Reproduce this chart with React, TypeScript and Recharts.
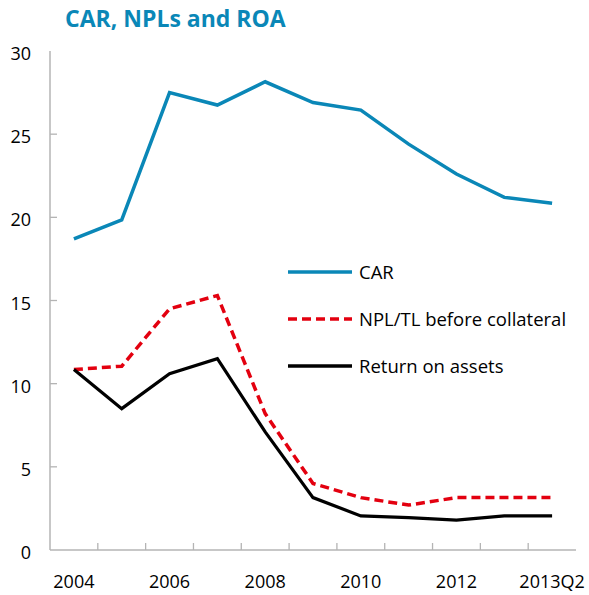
import React from "react";
import { LineChart, Line, XAxis, YAxis, Legend } from "recharts";

const categories = ["2004", "2005", "2006", "2007", "2008", "2009", "2010", "2011", "2012", "2013", "2013Q2"];
const carValues = [18.7, 19.85, 27.5, 26.75, 28.15, 26.9, 26.45, 24.4, 22.6, 21.2, 20.85];
const nplValues = [10.85, 11.05, 14.5, 15.3, 8.2, 4.0, 3.15, 2.7, 3.15, 3.15, 3.15];
const roaValues = [10.85, 8.5, 10.6, 11.5, 7.1, 3.15, 2.05, 1.95, 1.8, 2.05, 2.05];
const yTicks = [0, 5, 10, 15, 20, 25, 30];
const xLabelIndexes = [0, 2, 4, 6, 8, 10];
const seriesNames = ["CAR", "NPL/TL before collateral", "Return on assets"];

const BLUE = "#0a87b7";
const RED = "#e3000f";
const BLACK = "#000000";
const AXIS = "#b4b4b4";
const FRAME = "#d9d9d9";
const FONT = "'Open Sans', sans-serif";

const data = categories.map((c, i) => ({
  i,
  cat: c,
  car: carValues[i],
  npl: nplValues[i],
  roa: roaValues[i],
}));

// tick positions: integers are category centers (labels), halves are band boundaries (tick marks)
const xTickPositions: number[] = [];
for (let k = 0; k < categories.length; k++) {
  xTickPositions.push(k);
  if (k < categories.length - 1) xTickPositions.push(k + 0.5);
}

const XTick = (props: any) => {
  const { x, y, payload } = props;
  const v = payload.value as number;
  if (Math.abs(v - Math.round(v)) > 0.01) {
    return <line x1={x} x2={x} y1={y} y2={y - 7} stroke={AXIS} strokeWidth={1.3} />;
  }
  if (!xLabelIndexes.includes(v)) return <g />;
  return (
    <text x={x} y={y + 38} textAnchor="middle" fontFamily={FONT} fontSize={18} fill="#000">
      {categories[v]}
    </text>
  );
};

const YTick = (props: any) => {
  const { x, y, payload } = props;
  return (
    <g>
      {payload.value !== 0 && payload.value !== 30 ? (
        <line x1={x} x2={x + 7} y1={y} y2={y} stroke={AXIS} strokeWidth={1.3} />
      ) : null}
      <text x={x - 19} y={y + 9} textAnchor="end" fontFamily={FONT} fontSize={18} fill="#000">
        {payload.value}
      </text>
    </g>
  );
};

const LegendContent = (props: any) => {
  const { payload } = props;
  const rows = [22, 69, 116];
  return (
    <svg width={295} height={135} style={{ display: "block" }}>
      {(payload || []).map((p: any, idx: number) => (
        <g key={idx}>
          <line
            x1={0}
            x2={64}
            y1={rows[idx]}
            y2={rows[idx]}
            stroke={p.color}
            strokeWidth={3.5}
            strokeDasharray={p.payload && p.payload.strokeDasharray ? p.payload.strokeDasharray : undefined}
          />
          <text x={71} y={rows[idx] + 6.5} fontFamily={FONT} fontSize={18.5} fill="#000">
            {p.value}
          </text>
        </g>
      ))}
    </svg>
  );
};

export default function App() {
  return (
    <div style={{ position: "absolute", left: 0, top: 0, width: 589, height: 595, background: "#fff" }}>
      <div
        style={{
          position: "absolute",
          left: 65,
          top: 7,
          fontFamily: FONT,
          fontWeight: 700,
          fontSize: 23,
          lineHeight: "23px",
          color: BLUE,
          whiteSpace: "nowrap",
        }}
      >
        CAR, NPLs and ROA
      </div>
      <LineChart
        width={589}
        height={595}
        data={data}
        margin={{ top: 51, right: 13, bottom: 0, left: 0 }}
        style={{ position: "absolute", left: 0, top: 0 }}
      >
        <XAxis
          dataKey="i"
          type="number"
          domain={[-0.5, 10.5]}
          ticks={xTickPositions}
          interval={0}
          tick={<XTick />}
          tickLine={false}
          tickSize={0}
          tickMargin={0}
          height={45}
          axisLine={{ stroke: AXIS, strokeWidth: 1.5 }}
          allowDecimals
        />
        <XAxis
          xAxisId="top"
          orientation="top"
          dataKey="i"
          type="number"
          domain={[-0.5, 10.5]}
          tick={false}
          tickLine={false}
          height={0}
          axisLine={{ stroke: FRAME, strokeWidth: 1.3 }}
        />
        <YAxis
          domain={[0, 30]}
          ticks={yTicks}
          interval={0}
          tick={<YTick />}
          tickLine={false}
          tickSize={0}
          tickMargin={0}
          width={50}
          axisLine={{ stroke: AXIS, strokeWidth: 1.5 }}
        />
        <YAxis
          yAxisId="right"
          orientation="right"
          domain={[0, 30]}
          tick={false}
          tickLine={false}
          width={0}
          axisLine={{ stroke: FRAME, strokeWidth: 1.3 }}
        />
        <Legend
          layout="vertical"
          align="center"
          verticalAlign="middle"
          content={<LegendContent />}
          wrapperStyle={{ position: "absolute", left: 288, top: 250, width: 295, height: 135 }}
        />
        <Line
          name={seriesNames[0]}
          dataKey="car"
          stroke={BLUE}
          strokeWidth={3.5}
          dot={false}
          activeDot={false}
          isAnimationActive={false}
        />
        <Line
          name={seriesNames[1]}
          dataKey="npl"
          stroke={RED}
          strokeWidth={3.5}
          strokeDasharray="9 5"
          dot={false}
          activeDot={false}
          isAnimationActive={false}
        />
        <Line
          name={seriesNames[2]}
          dataKey="roa"
          stroke={BLACK}
          strokeWidth={3.2}
          dot={false}
          activeDot={false}
          isAnimationActive={false}
        />
      </LineChart>
    </div>
  );
}
